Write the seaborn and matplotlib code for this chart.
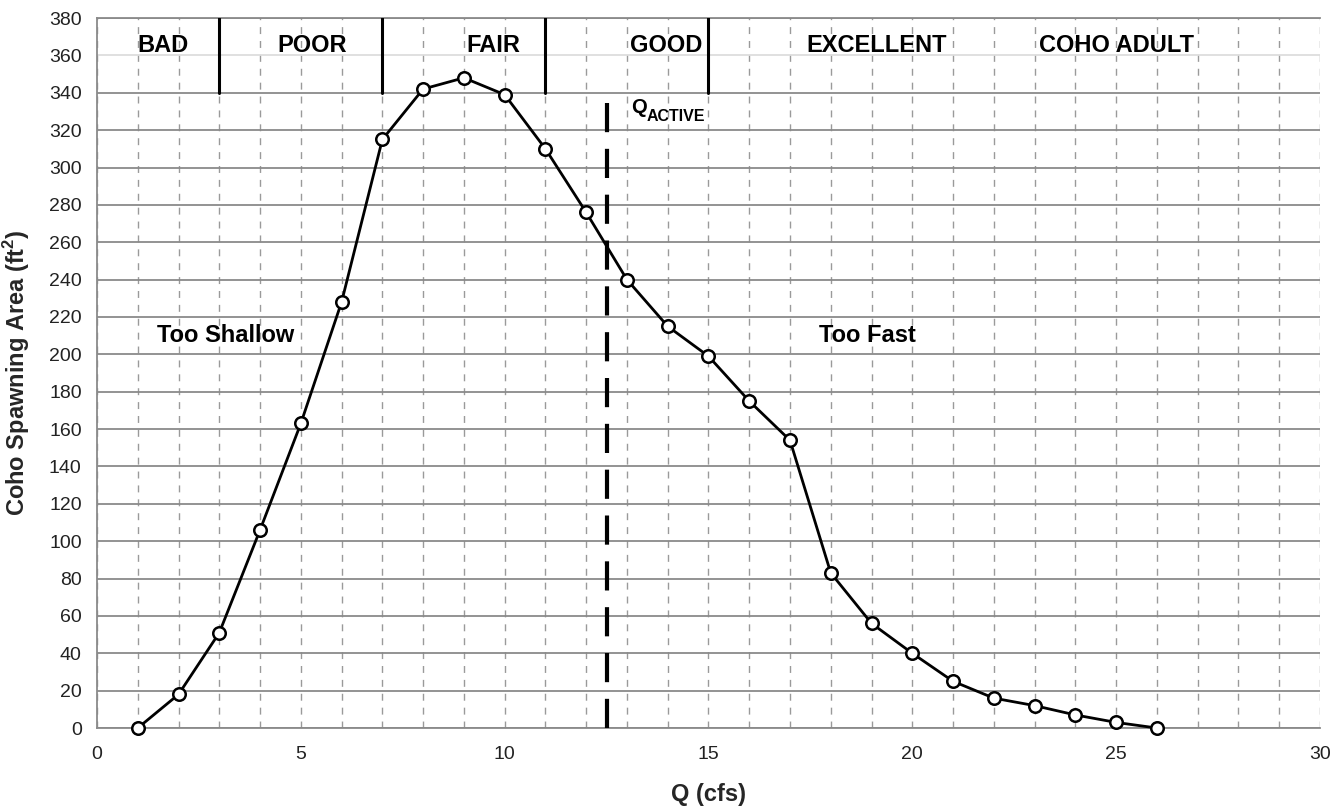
import matplotlib
matplotlib.use("Agg")
import matplotlib.pyplot as plt
import seaborn as sns
import pandas as pd
from matplotlib.ticker import MultipleLocator

# ---- data ----
q_cfs = [1, 2, 3, 4, 5, 6, 7, 8, 9, 10, 11, 12, 13, 14, 15, 16, 17, 18, 19, 20,
         21, 22, 23, 24, 25, 26]
spawning_area = [0, 18, 51, 106, 163, 228, 315, 342, 348, 339, 310, 276, 240,
                 215, 199, 175, 154, 83, 56, 40, 25, 16, 12, 7, 3, 0]
rating_labels = ["BAD", "POOR", "FAIR", "GOOD", "EXCELLENT", "COHO ADULT"]
rating_label_x = [1.61, 5.27, 9.71, 13.96, 19.13, 25.0]
rating_bounds = [3, 7, 11, 15]
q_active = 12.5
zone_labels = ["Too Shallow", "Too Fast"]
zone_label_x = [3.16, 18.89]

df = pd.DataFrame({"Q": q_cfs, "Area": spawning_area})

sns.set_style("white")
plt.rcParams["font.family"] = ["Liberation Sans", "DejaVu Sans"]
plt.rcParams["mathtext.fontset"] = "custom"
plt.rcParams["mathtext.rm"] = "Liberation Sans"
plt.rcParams["mathtext.bf"] = "Liberation Sans:bold"

fig = plt.figure(figsize=(13.38, 8.09), dpi=100)
ax = fig.add_axes([0.0725, 0.1001, 0.9140, 0.8776])

ax.set_xlim(0, 30)
ax.set_ylim(0, 380)
ax.xaxis.set_major_locator(MultipleLocator(5))
ax.xaxis.set_minor_locator(MultipleLocator(1))
ax.yaxis.set_major_locator(MultipleLocator(20))
ax.yaxis.set_minor_locator(MultipleLocator(5))

# grids
ax.grid(which="both", axis="x", color="#9a9a9a", lw=1.0, ls=(0, (5, 5)))
ax.grid(which="major", axis="y", color="#8a8a8a", lw=1.3, ls="-")
for val, gl in zip(ax.get_yticks(), ax.yaxis.get_gridlines()):
    if abs(val - 360) < 1e-6:
        gl.set_color("#dddddd")
ax.set_axisbelow(True)

# spines
for side in ["left", "bottom", "top"]:
    ax.spines[side].set_color("#8a8a8a")
    ax.spines[side].set_linewidth(1.3)
ax.spines["right"].set_visible(False)

ax.tick_params(axis="both", which="major", direction="out", length=7,
               width=1.2, color="#777777", labelsize=14, labelcolor="#222222")
ax.tick_params(axis="both", which="minor", direction="in", length=4,
               width=1.0, color="#777777")
ax.tick_params(axis="x", which="major", pad=6)
ax.tick_params(axis="y", which="major", pad=4)

# data line
sns.lineplot(data=df, x="Q", y="Area", ax=ax, color="black", lw=2.0,
             marker="o", markersize=9, markerfacecolor="white",
             markeredgecolor="black", markeredgewidth=1.8, zorder=5)
for ln in ax.lines:
    ln.set_clip_on(False)

# Q active dashed line
ax.plot([q_active, q_active], [0, 340], color="black", lw=3.0,
        ls=(0, (7, 4)), zorder=4, dash_capstyle="butt")
ax.text(13.1, 332, "Q", fontsize=14.5, fontweight="bold", ha="left",
        va="center", color="black")
ax.text(13.48, 327.5, "ACTIVE", fontsize=11.5, fontweight="bold", ha="left",
        va="center", color="black")

# rating boundaries and labels
for b in rating_bounds:
    ax.plot([b, b], [340, 380], color="black", lw=2.2, zorder=4)
for lab, x in zip(rating_labels, rating_label_x):
    ax.text(x, 365.5, lab, fontsize=17, fontweight="bold", ha="center",
            va="center", color="black")

for lab, x in zip(zone_labels, zone_label_x):
    ax.text(x, 210, lab, fontsize=17, fontweight="bold", ha="center",
            va="center", color="black")

ax.set_xlabel("Q (cfs)", fontsize=17, fontweight="bold", labelpad=14)
ax.set_ylabel(r"Coho Spawning Area (ft$^{\mathbf{2}}$)", fontsize=17,
              fontweight="bold", labelpad=12)

fig.savefig("out.png", dpi=100)
